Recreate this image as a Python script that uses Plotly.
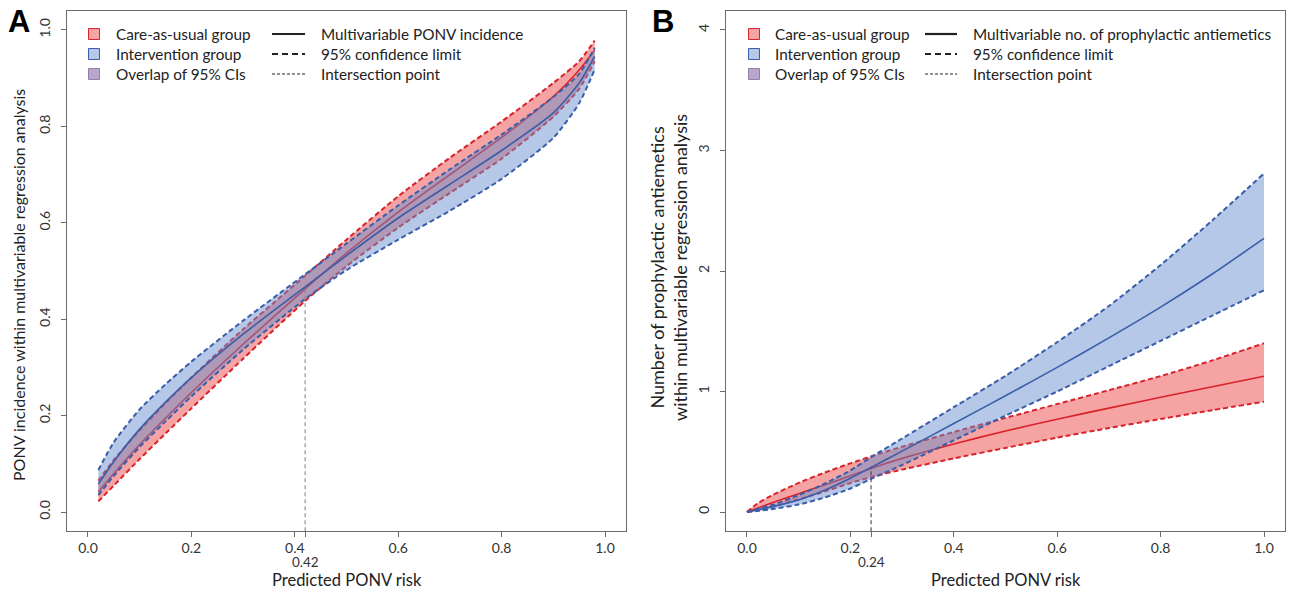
import plotly.graph_objects as go

# ---------------- Panel A data: PONV incidence ----------------
a_x = [0.02, 0.05, 0.1, 0.15, 0.2, 0.3, 0.42, 0.5, 0.6, 0.7, 0.8, 0.9, 0.95, 0.98]
a_care_est = [0.042, 0.080, 0.140, 0.195, 0.248, 0.348, 0.463, 0.537, 0.622, 0.700, 0.777, 0.862, 0.917, 0.958]
a_care_hi = [0.065, 0.108, 0.170, 0.226, 0.279, 0.379, 0.490, 0.565, 0.655, 0.735, 0.810, 0.890, 0.935, 0.978]
a_care_lo = [0.022, 0.055, 0.110, 0.163, 0.215, 0.318, 0.438, 0.510, 0.590, 0.662, 0.733, 0.820, 0.878, 0.935]
a_int_est = [0.058, 0.105, 0.172, 0.228, 0.279, 0.369, 0.467, 0.532, 0.610, 0.680, 0.750, 0.828, 0.890, 0.945]
a_int_hi = [0.087, 0.145, 0.213, 0.265, 0.312, 0.397, 0.493, 0.557, 0.636, 0.711, 0.783, 0.861, 0.909, 0.963]
a_int_lo = [0.035, 0.075, 0.135, 0.188, 0.240, 0.337, 0.442, 0.502, 0.565, 0.625, 0.691, 0.776, 0.848, 0.918]
a_cross = (0.42, 0.462)
a_xticks = [0.0, 0.2, 0.4, 0.6, 0.8, 1.0]
a_yticks = [0.0, 0.2, 0.4, 0.6, 0.8, 1.0]

# ---------------- Panel B data: number of antiemetics ----------------
b_x = [0.0, 0.02, 0.05, 0.1, 0.15, 0.2, 0.24, 0.3, 0.4, 0.5, 0.6, 0.7, 0.8, 0.9, 1.0]
b_care_est = [0.0, 0.032, 0.078, 0.152, 0.225, 0.300, 0.362, 0.445, 0.565, 0.672, 0.770, 0.862, 0.952, 1.040, 1.127]
b_care_hi = [0.0, 0.070, 0.142, 0.242, 0.327, 0.404, 0.462, 0.542, 0.664, 0.781, 0.896, 1.011, 1.128, 1.258, 1.400]
b_care_lo = [0.0, 0.015, 0.045, 0.105, 0.170, 0.240, 0.290, 0.352, 0.445, 0.532, 0.617, 0.697, 0.772, 0.845, 0.915]
b_int_est = [0.0, 0.016, 0.045, 0.100, 0.180, 0.280, 0.370, 0.505, 0.735, 0.965, 1.200, 1.445, 1.700, 1.975, 2.270]
b_int_hi = [0.0, 0.025, 0.060, 0.140, 0.235, 0.345, 0.455, 0.610, 0.870, 1.130, 1.410, 1.710, 2.050, 2.420, 2.810]
b_int_lo = [0.0, 0.008, 0.025, 0.062, 0.120, 0.195, 0.275, 0.390, 0.595, 0.800, 1.000, 1.210, 1.420, 1.630, 1.840]
b_cross = (0.24, 0.37)
b_xticks = [0.0, 0.2, 0.4, 0.6, 0.8, 1.0]
b_yticks = [0, 1, 2, 3, 4]

legend_fill = ["Care-as-usual group", "Intervention group", "Overlap of 95% CIs"]
legend_line_a = ["Multivariable PONV incidence", "95% confidence limit", "Intersection point"]
legend_line_b = ["Multivariable no. of prophylactic antiemetics", "95% confidence limit", "Intersection point"]

# ---------------- styles ----------------
RED = "#d8232a"
BLUE = "#3a5daa"
RED_FILL = "rgba(238,78,78,0.52)"
BLUE_FILL = "rgba(100,140,205,0.48)"
PURPLE = "#b9a6cc"
PURPLE_EDGE = "#8f7fa5"
FONT = "Lato"
AX = "#6b6b6b"
W, H = 1290, 589

fig = go.Figure()
SPL = dict(shape="spline", smoothing=0.6)


def band(x, hi, lo, fill, xa, ya):
    fig.add_trace(go.Scatter(
        x=x, y=lo, mode="lines", line=dict(width=0, **SPL),
        hoverinfo="skip", showlegend=False, xaxis=xa, yaxis=ya))
    fig.add_trace(go.Scatter(
        x=x, y=hi, mode="lines", line=dict(width=0, **SPL),
        fill="tonexty", fillcolor=fill,
        hoverinfo="skip", showlegend=False, xaxis=xa, yaxis=ya))


def curve(x, y, color, dash, width, xa, ya):
    fig.add_trace(go.Scatter(
        x=x, y=y, mode="lines",
        line=dict(color=color, width=width, dash=dash, **SPL),
        hoverinfo="skip", showlegend=False, xaxis=xa, yaxis=ya))


def panel(x, c_est, c_hi, c_lo, i_est, i_hi, i_lo, cross, y0, xa, ya, cross_col):
    band(x, c_hi, c_lo, RED_FILL, xa, ya)
    curve(x, c_est, RED, "solid", 1.6, xa, ya)
    curve(x, c_hi, RED, "5px,3px", 2.0, xa, ya)
    curve(x, c_lo, RED, "5px,3px", 2.0, xa, ya)
    band(x, i_hi, i_lo, BLUE_FILL, xa, ya)
    curve(x, i_est, BLUE, "solid", 1.6, xa, ya)
    curve(x, i_hi, BLUE, "5px,3px", 2.0, xa, ya)
    curve(x, i_lo, BLUE, "5px,3px", 2.0, xa, ya)
    fig.add_trace(go.Scatter(
        x=[cross[0], cross[0]], y=[y0, cross[1]], mode="lines",
        line=dict(color=cross_col, width=1.1, dash="4px,3px"),
        hoverinfo="skip", showlegend=False, xaxis=xa, yaxis=ya))


panel(a_x, a_care_est, a_care_hi, a_care_lo, a_int_est, a_int_hi, a_int_lo,
      a_cross, -0.04, "x", "y", "#8a8a8a")
panel(b_x, b_care_est, b_care_hi, b_care_lo, b_int_est, b_int_hi, b_int_lo,
      b_cross, -0.16, "x2", "y2", "#444444")


def px2x(px):
    return px / W


def py2y(py):
    return 1 - py / H


ax_common = dict(showgrid=False, zeroline=False, showline=True, mirror=True,
                 linecolor=AX, linewidth=1, ticks="outside", ticklen=5,
                 tickcolor=AX, tickfont=dict(family=FONT, size=14, color="#333333"))

a_dom_x = [px2x(67.3), px2x(625.7)]
b_dom_x = [px2x(726.3), px2x(1284.7)]
dom_y = [py2y(531.3), py2y(10.7)]

fig.update_layout(
    width=W, height=H, margin=dict(l=0, r=0, t=0, b=0, autoexpand=False),
    paper_bgcolor="white", plot_bgcolor="white", showlegend=False,
    xaxis=dict(domain=a_dom_x, range=[-0.04, 1.04], anchor="y",
               tickvals=a_xticks + [a_cross[0]], ticklabelstandoff=-1,
               ticktext=["%.1f" % v for v in a_xticks] + [""], **ax_common),
    yaxis=dict(domain=dom_y, range=[-0.04, 1.04], anchor="x",
               tickvals=a_yticks, ticktext=["%.1f" % v for v in a_yticks],
               tickangle=-90, ticklabelstandoff=6, **ax_common),
    xaxis2=dict(domain=b_dom_x, range=[-0.04, 1.04], anchor="y2",
                tickvals=b_xticks + [b_cross[0]], ticklabelstandoff=-1,
                ticktext=["%.1f" % v for v in b_xticks] + [""], **ax_common),
    yaxis2=dict(domain=dom_y, range=[-0.16, 4.16], anchor="x2",
                tickvals=b_yticks, ticktext=[str(v) for v in b_yticks],
                tickangle=-90, ticklabelstandoff=6, **ax_common),
)

ann = []
shapes = []
TXT = dict(family=FONT, size=15.3, color="#222222")


def note(text, x, y, font, xref="paper", xanchor="center", angle=0):
    ann.append(dict(text=text, x=x, y=y, xref=xref, yref="paper", xanchor=xanchor,
                    yanchor="middle", textangle=angle, showarrow=False, font=font))


# panel letters
note("<b>A</b>", px2x(19), py2y(21), dict(family="Liberation Sans", size=31, color="black"))
note("<b>B</b>", px2x(663), py2y(21), dict(family="Liberation Sans", size=31, color="black"))

# axis titles
XT = dict(family=FONT, size=16.5, color="#222222")
note("Predicted PONV risk", px2x(346.5), py2y(580), XT)
note("Predicted PONV risk", px2x(1005.5), py2y(580), XT)
note("PONV incidence within multivariable regression analysis", px2x(18), py2y(285),
     dict(family=FONT, size=16, color="#222222"), angle=-90)
note("Number of prophylactic antiemetics<br>within multivariable regression analysis",
     px2x(668), py2y(268), dict(family=FONT, size=18, color="#222222"), angle=-90)

# intersection labels
TICKF = dict(family=FONT, size=13.5, color="#333333")
note("%.2f" % a_cross[0], a_cross[0], py2y(562), TICKF, xref="x")
note("%.2f" % b_cross[0], b_cross[0], py2y(562), TICKF, xref="x2")

# legends
rows = [34, 54, 74]
fills = [(RED_FILL, RED), (BLUE_FILL, BLUE), (PURPLE, PURPLE_EDGE)]
line_styles = [("solid", 2.2), ("6px,4px", 2.2), ("3px,2px", 1.0)]
for sq_cx, text_x, ln_x0, ln_x1, ln_tx, labels in [
        (94, 114, 272, 305, 319, legend_line_a),
        (754, 773, 925, 957, 971, legend_line_b)]:
    for i, py in enumerate(rows):
        fc, lc = fills[i]
        shapes.append(dict(type="rect", xref="paper", yref="paper",
                           x0=px2x(sq_cx - 5.5), x1=px2x(sq_cx + 5.5),
                           y0=py2y(py + 5.5), y1=py2y(py - 5.5),
                           fillcolor=fc, line=dict(color=lc, width=1)))
        note(legend_fill[i], px2x(text_x), py2y(py), TXT, xanchor="left")
        dash, wd = line_styles[i]
        shapes.append(dict(type="line", xref="paper", yref="paper",
                           x0=px2x(ln_x0), x1=px2x(ln_x1), y0=py2y(py), y1=py2y(py),
                           line=dict(color="#222222", width=wd, dash=dash)))
        note(labels[i], px2x(ln_tx), py2y(py), TXT, xanchor="left")

fig.update_layout(annotations=ann, shapes=shapes)
fig.write_html("out.html", config={"displayModeBar": False},
               post_script="document.body.style.margin='0';document.body.style.overflow='hidden';")
